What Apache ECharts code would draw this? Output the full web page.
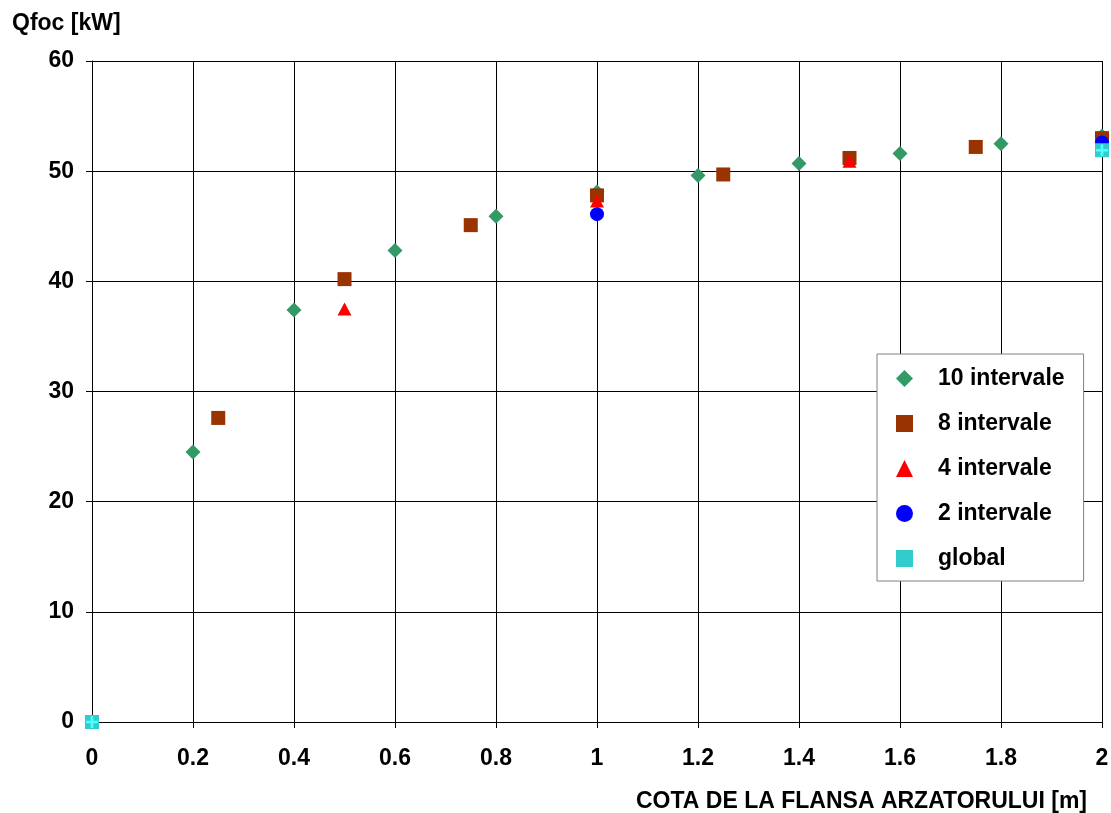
<!DOCTYPE html>
<html>
<head>
<meta charset="utf-8">
<script src="https://cdn.jsdelivr.net/npm/echarts@6/dist/echarts.min.js"></script>
<style>
html, body { margin: 0; padding: 0; background: #fff; }
#container { width: 1111px; height: 813px; }
</style>
</head>
<body>
<div id="container"></div>
<script>
// data
var interv10X = [0, 0.2, 0.4, 0.6, 0.8, 1.0, 1.2, 1.4, 1.6, 1.8, 2.0];
var interv10Y = [0, 24.5, 37.4, 42.8, 45.9, 48.1, 49.6, 50.7, 51.6, 52.5, 53.2];

var interv8X = [0, 0.25, 0.5, 0.75, 1.0, 1.25, 1.5, 1.75, 2.0];
var interv8Y = [0, 27.6, 40.2, 45.1, 47.8, 49.7, 51.2, 52.2, 53.0];

var interv4X = [0, 0.5, 1.0, 1.5, 2.0];
var interv4Y = [0, 37.5, 47.3, 50.9, 52.6];

var interv2X = [0, 1.0, 2.0];
var interv2Y = [0, 46.1, 52.6];

var globalX = [0, 2.0];
var globalY = [0, 51.9];

var seriesNames = ['10 intervale', '8 intervale', '4 intervale', '2 intervale', 'global'];

function toPoints(xs, ys) {
    var pts = [];
    for (var i = 0; i < xs.length; i++) {
        pts.push([xs[i], ys[i]]);
    }
    return pts;
}

var font = 'Liberation Sans, Arial, sans-serif';
var crossPath = 'path://M0,5.5L5.5,5.5L5.5,0L8.5,0L8.5,5.5L14,5.5L14,8.5L8.5,8.5L8.5,14L5.5,14L5.5,8.5L0,8.5Z';

var dom = document.getElementById('container');
var myChart = echarts.init(dom, null, { renderer: 'canvas' });

var option = {
    animation: false,
    backgroundColor: '#fff',
    title: [
        {
            text: 'Qfoc [kW]',
            left: 12, top: 12, padding: 0,
            textStyle: { fontFamily: font, fontSize: 23, fontWeight: 'bold', color: '#000' }
        },
        {
            text: 'COTA DE LA FLANSA ARZATORULUI [m]',
            right: 24, top: 790, padding: 0,
            textStyle: { fontFamily: font, fontSize: 23, fontWeight: 'bold', color: '#000' }
        }
    ],
    grid: {
        left: 92, right: 9, top: 61, bottom: 91,
        containLabel: false,
        outerBoundsMode: 'none'
    },
    legend: {
        orient: 'vertical',
        left: 877, top: 354,
        padding: [13, 19, 11, 19],
        itemWidth: 17, itemHeight: 17, itemGap: 22,
        backgroundColor: '#fff',
        borderColor: '#808080', borderWidth: 1, borderRadius: 0,
        data: seriesNames,
        textStyle: {
            fontFamily: font, fontSize: 23, fontWeight: 'bold', color: '#000',
            padding: [0, 0, 0, 20]
        }
    },
    xAxis: {
        type: 'value',
        min: 0, max: 2, interval: 0.2,
        axisLine: { show: true, onZero: false, lineStyle: { color: '#000', width: 1 } },
        axisTick: { show: true, length: 6, lineStyle: { color: '#000' } },
        splitLine: { show: true, lineStyle: { color: '#000', width: 1 } },
        axisLabel: {
            margin: 25, color: '#000',
            fontFamily: font, fontSize: 23, fontWeight: 'bold'
        }
    },
    yAxis: {
        type: 'value',
        min: 0, max: 60, interval: 10,
        axisLine: { show: true, onZero: false, lineStyle: { color: '#000', width: 1 } },
        axisTick: { show: true, length: 6, lineStyle: { color: '#000' } },
        splitLine: { show: true, lineStyle: { color: '#000', width: 1 } },
        axisLabel: {
            margin: 18, color: '#000',
            fontFamily: font, fontSize: 23, fontWeight: 'bold'
        }
    },
    series: [
        {
            name: seriesNames[0], type: 'scatter',
            symbol: 'diamond', symbolSize: 15,
            itemStyle: { color: '#339966', opacity: 1 },
            data: toPoints(interv10X, interv10Y)
        },
        {
            name: seriesNames[1], type: 'scatter',
            symbol: 'rect', symbolSize: 14,
            itemStyle: { color: '#993300', opacity: 1 },
            data: toPoints(interv8X, interv8Y)
        },
        {
            name: seriesNames[2], type: 'scatter',
            symbol: 'triangle', symbolSize: [14, 13],
            itemStyle: { color: '#ff0000', opacity: 1 },
            data: toPoints(interv4X, interv4Y)
        },
        {
            name: seriesNames[3], type: 'scatter',
            symbol: 'circle', symbolSize: 14,
            itemStyle: { color: '#0000ff', opacity: 1 },
            data: toPoints(interv2X, interv2Y)
        },
        {
            name: seriesNames[4], type: 'scatter',
            symbol: 'rect', symbolSize: 14,
            itemStyle: { color: '#33cccc', opacity: 1 },
            data: toPoints(globalX, globalY)
        },
        {
            // light cross drawn over the global squares
            name: seriesNames[4], type: 'scatter',
            symbol: crossPath, symbolSize: 12,
            itemStyle: { color: '#4dffff', opacity: 1 },
            data: toPoints(globalX, globalY)
        }
    ]
};

myChart.setOption(option);
window.addEventListener('resize', myChart.resize);
</script>
</body>
</html>
